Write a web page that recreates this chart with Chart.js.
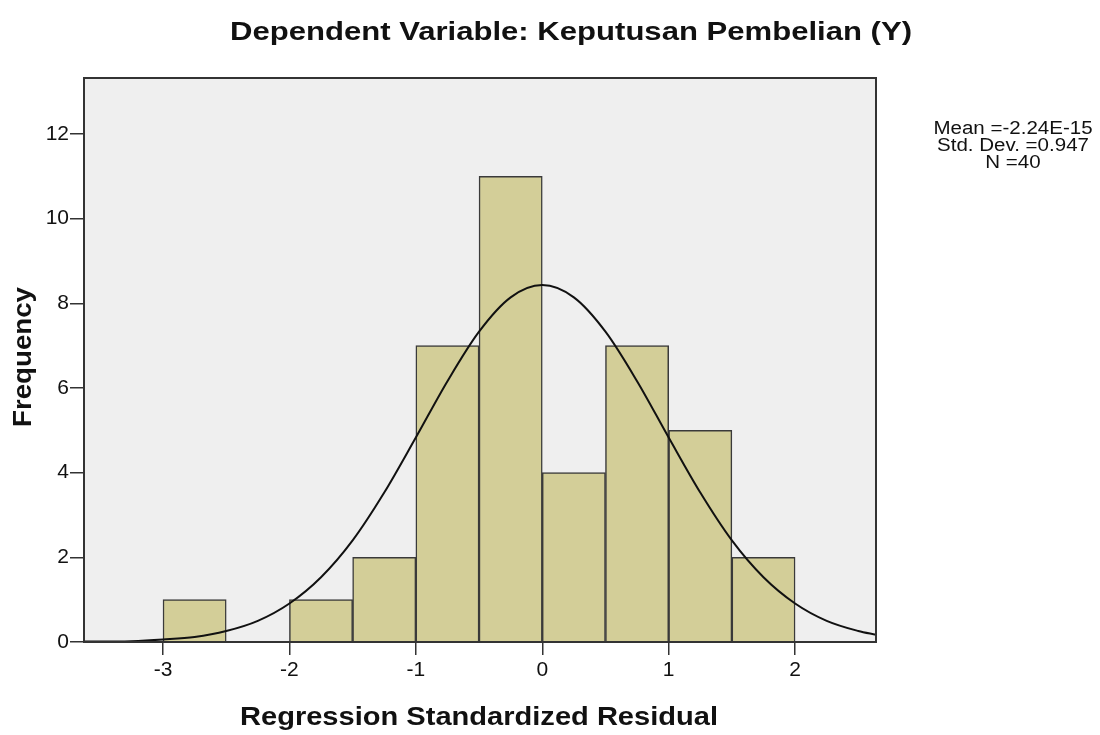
<!DOCTYPE html>
<html>
<head>
<meta charset="utf-8">
<script src="https://cdn.jsdelivr.net/npm/chart.js@4"></script>
<style>
  html, body { margin: 0; padding: 0; background: #fff; }
</style>
</head>
<body>
<canvas id="histogram" width="1100" height="735"></canvas>
<script>
// histogram bins (left edge) and counts
const binStarts = [-3, -2, -1.5, -1, -0.5, 0, 0.5, 1, 1.5];
const binCounts = [1, 1, 2, 7, 11, 4, 7, 5, 2];
const binWidth = 0.5;

// normal curve
const curveX = [-3.625, -3.5, -3.25, -3, -2.75, -2.5, -2.25, -2, -1.75, -1.5, -1.25, -1, -0.75, -0.5, -0.25, 0, 0.25, 0.5, 0.75, 1, 1.25, 1.5, 1.75, 2, 2.25, 2.5, 2.64];
const curveY = [0.01, 0.01, 0.02, 0.06, 0.12, 0.26, 0.5, 0.91, 1.53, 2.4, 3.53, 4.83, 6.16, 7.33, 8.14, 8.43, 8.14, 7.33, 6.16, 4.83, 3.53, 2.4, 1.53, 0.91, 0.5, 0.26, 0.17];

const xTicks = [-3, -2, -1, 0, 1, 2];
const yTicks = [0, 2, 4, 6, 8, 10, 12];

const chartTitle = "Dependent Variable: Keputusan Pembelian (Y)";
const xTitle = "Regression Standardized Residual";
const yTitle = "Frequency";
const statLines = ["Mean =-2.24E-15", "Std. Dev. =0.947", "N =40"];

const FONT = "'Liberation Sans', Arial, sans-serif";

// SPSS output is a bit wider than the font; stretch text to the given width
function stretchedText(ctx, text, cx, y, width) {
  const w = ctx.measureText(text).width;
  ctx.save();
  ctx.translate(cx, y);
  ctx.scale(width / w, 1);
  ctx.textAlign = "center";
  ctx.fillText(text, 0, 0);
  ctx.restore();
}

const frame = {
  id: "frame",
  beforeDraw(chart) {
    const { ctx, chartArea: a } = chart;
    ctx.save();
    ctx.fillStyle = "#efefef";
    ctx.fillRect(a.left, a.top, a.right - a.left, a.bottom - a.top);
    ctx.restore();
  },
  afterDatasetsDraw(chart) {
    const { ctx, chartArea: a } = chart;
    ctx.save();
    ctx.strokeStyle = "#333";
    ctx.lineWidth = 2;
    ctx.strokeRect(a.left, a.top, a.right - a.left, a.bottom - a.top);
    ctx.restore();
  },
  afterDraw(chart) {
    const ctx = chart.ctx;
    ctx.save();
    ctx.fillStyle = "#111";
    ctx.textBaseline = "alphabetic";

    ctx.font = "bold 26px " + FONT;
    stretchedText(ctx, chartTitle, 571, 40, 682);
    stretchedText(ctx, xTitle, 479, 725, 478);

    ctx.save();
    ctx.translate(31, 357);
    ctx.rotate(-Math.PI / 2);
    stretchedText(ctx, yTitle, 0, 0, 140);
    ctx.restore();

    ctx.font = "18px " + FONT;
    statLines.forEach((t, i) => {
      const w = ctx.measureText(t).width * 1.14;
      stretchedText(ctx, t, 1013, 134 + i * 17, w);
    });
    ctx.restore();
  }
};

new Chart(document.getElementById("histogram"), {
  type: "bar",
  data: {
    datasets: [
      {
        type: "line",
        data: curveX.map((x, i) => ({ x, y: curveY[i] })),
        borderColor: "#111",
        borderWidth: 2,
        pointRadius: 0,
        cubicInterpolationMode: "monotone",
        order: 0,
      },
      {
        type: "bar",
        data: binStarts.map((s, i) => ({ x: s + binWidth / 2, y: binCounts[i] })),
        backgroundColor: "#d3ce98",
        borderColor: "#3a3a3a",
        borderWidth: 1.5,
        barPercentage: 1,
        categoryPercentage: 1,
        order: 1,
      },
    ],
  },
  options: {
    responsive: false,
    animation: false,
    layout: { padding: { top: 78, right: 224, left: 0, bottom: 0 } },
    plugins: {
      legend: { display: false },
      tooltip: { enabled: false },
    },
    scales: {
      x: {
        type: "linear",
        min: -3.625,
        max: 2.64,
        offset: false,
        afterBuildTicks: s => { s.ticks = xTicks.map(v => ({ value: v })); },
        afterFit: s => { s.height = 93; },
        grid: { offset: false, drawOnChartArea: false, drawTicks: true, tickLength: 13, color: "#333", lineWidth: 1.5 },
        border: { display: false },
        ticks: { color: "#111", font: { family: FONT, size: 21 }, padding: 3, maxRotation: 0 },
      },
      y: {
        min: 0,
        max: 13.32,
        afterBuildTicks: s => { s.ticks = yTicks.map(v => ({ value: v })); },
        afterFit: s => { s.width = 84; },
        grid: { drawOnChartArea: false, drawTicks: true, tickLength: 14, color: "#333", lineWidth: 1.5 },
        border: { display: false },
        ticks: { color: "#111", font: { family: FONT, size: 21 }, padding: 1 },
      },
    },
  },
  plugins: [frame],
});
</script>
</body>
</html>
